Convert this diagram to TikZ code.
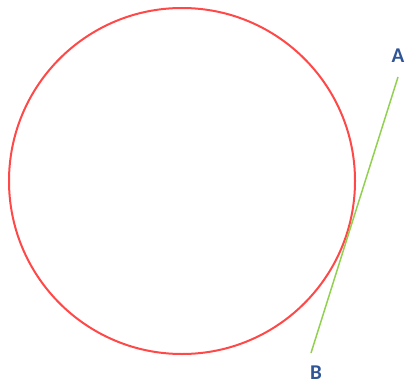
\documentclass[tikz,border=0pt]{standalone}
\usepackage{fontspec}
\setmainfont{Carlito}
\usetikzlibrary{positioning}
\definecolor{circred}{RGB}{255,72,72}
\definecolor{tangreen}{RGB}{146,208,80}
\definecolor{labblue}{RGB}{47,85,151}
\tikzset{
  ring/.style   ={draw=circred, line width=2pt, circle, minimum size=346pt, inner sep=0pt},
  secant/.style ={draw=tangreen, line width=1.5pt},
  ptlabel/.style={text=labblue, font=\fontsize{21}{24}\selectfont\bfseries, inner sep=0pt},
}
\begin{document}
\begin{tikzpicture}[x=1pt, y=-1pt]
\useasboundingbox (0,0) rectangle (409,385);

% circle
\node[ring] (circ) at (182,181) {};

% line ends and their labels
\coordinate (a) at (398,77);
\coordinate (b) at (311,353);
\node[ptlabel] (A) at (398,56) {A};
\node[ptlabel] (B) at (316,373) {B};
\draw[secant] (a) -- (b);

\end{tikzpicture}
\end{document}
